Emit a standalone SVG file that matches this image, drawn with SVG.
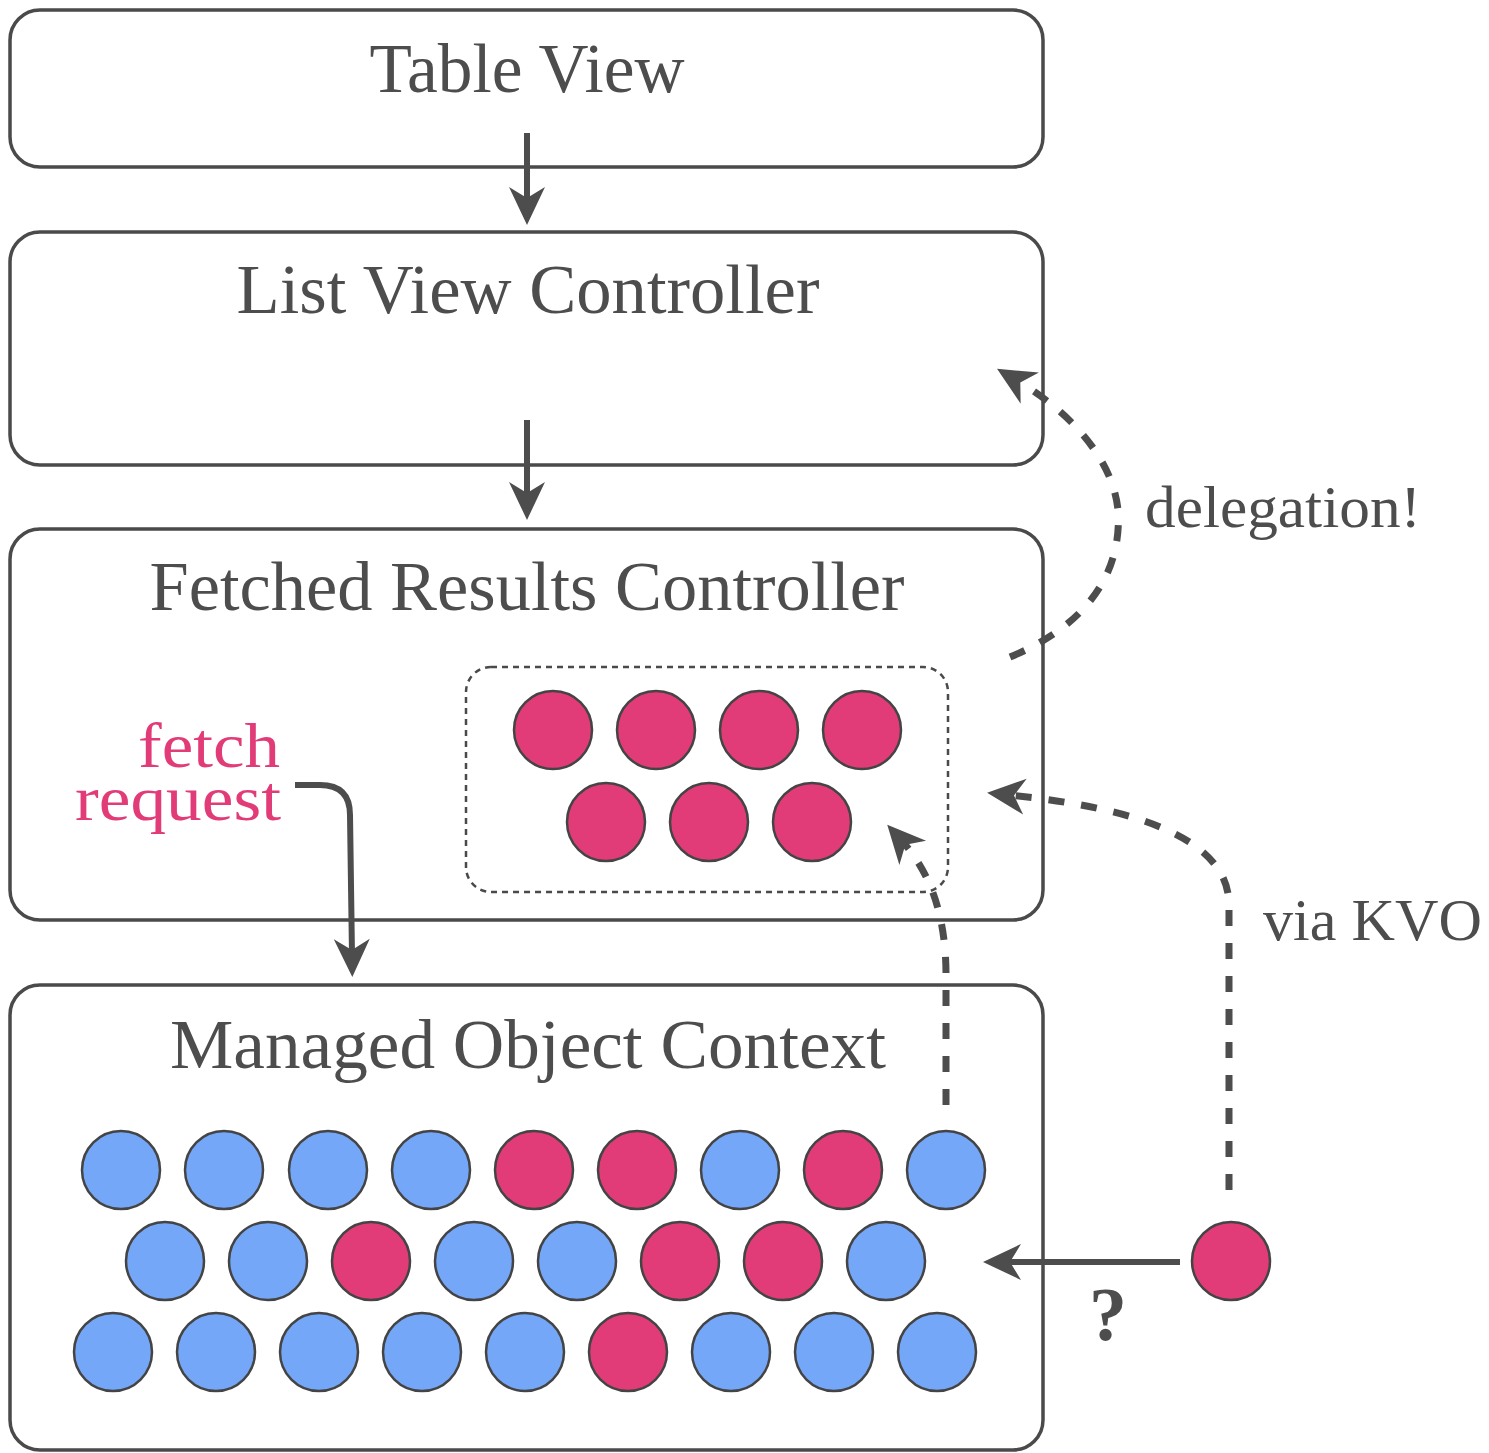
<svg xmlns="http://www.w3.org/2000/svg" width="1489" height="1453" viewBox="0 0 1489 1453">
  <style>
    .box { fill: #ffffff; stroke: #4a4a4a; stroke-width: 3.5; }
    .title { font-family: "Liberation Serif", "DejaVu Serif", serif; font-size: 70px; fill: #4d4d4d; text-anchor: middle; }
    .label { font-family: "Liberation Serif", "DejaVu Serif", serif; font-size: 60px; fill: #4d4d4d; }
    .pinktext { font-family: "Liberation Serif", "DejaVu Serif", serif; font-size: 64px; fill: #e23c78; text-anchor: end; }
    .pk { fill: #e23c78; stroke: #444; stroke-width: 2.5; }
    .bl { fill: #75a7f8; stroke: #444; stroke-width: 2.5; }
    .solid { fill: none; stroke: #4d4d4d; stroke-width: 6; }
    .dash { fill: none; stroke: #4d4d4d; stroke-width: 7; stroke-dasharray: 16 17; }
  </style>
  <defs>
    <!-- stealth arrowhead; its tip sits 22px beyond the end of the line -->
    <marker id="head" markerUnits="userSpaceOnUse" markerWidth="50" markerHeight="44" viewBox="-22 -22 50 44" refX="0" refY="0" orient="auto">
      <path d="M22,0 L-16,-18 L-5,0 L-16,18 Z" fill="#4d4d4d"/>
    </marker>
  </defs>

  <g id="table-view">
    <rect class="box" x="10" y="10" width="1033" height="157" rx="30"/>
    <text class="title" x="527" y="92" textLength="315" lengthAdjust="spacingAndGlyphs">Table View</text>
  </g>

  <g id="list-view-controller">
    <rect class="box" x="10" y="232" width="1033" height="233" rx="30"/>
    <text class="title" x="528" y="313" textLength="583" lengthAdjust="spacingAndGlyphs">List View Controller</text>
  </g>

  <g id="fetched-results-controller">
    <rect class="box" x="10" y="529" width="1033" height="391" rx="30"/>
    <text class="title" x="527" y="610" textLength="755" lengthAdjust="spacingAndGlyphs">Fetched Results Controller</text>
    <g id="fetched-objects">
      <rect x="466" y="667" width="482" height="225" rx="25" fill="none" stroke="#4a4a4a" stroke-width="2.5" stroke-dasharray="6 5"/>
      <circle class="pk" cx="553" cy="730" r="39"/>
      <circle class="pk" cx="656" cy="730" r="39"/>
      <circle class="pk" cx="759" cy="730" r="39"/>
      <circle class="pk" cx="862" cy="730" r="39"/>
      <circle class="pk" cx="606" cy="822" r="39"/>
      <circle class="pk" cx="709" cy="822" r="39"/>
      <circle class="pk" cx="812" cy="822" r="39"/>
    </g>
  </g>

  <g id="managed-object-context">
    <rect class="box" x="10" y="985" width="1033" height="465" rx="30"/>
    <text class="title" x="528" y="1068" textLength="716" lengthAdjust="spacingAndGlyphs">Managed Object Context</text>
    <!-- row 1 -->
    <circle class="bl" cx="121" cy="1170" r="39"/>
    <circle class="bl" cx="224" cy="1170" r="39"/>
    <circle class="bl" cx="328" cy="1170" r="39"/>
    <circle class="bl" cx="431" cy="1170" r="39"/>
    <circle class="pk" cx="534" cy="1170" r="39"/>
    <circle class="pk" cx="637" cy="1170" r="39"/>
    <circle class="bl" cx="740" cy="1170" r="39"/>
    <circle class="pk" cx="843" cy="1170" r="39"/>
    <circle class="bl" cx="946" cy="1170" r="39"/>
    <!-- row 2 -->
    <circle class="bl" cx="165" cy="1261" r="39"/>
    <circle class="bl" cx="268" cy="1261" r="39"/>
    <circle class="pk" cx="371" cy="1261" r="39"/>
    <circle class="bl" cx="474" cy="1261" r="39"/>
    <circle class="bl" cx="577" cy="1261" r="39"/>
    <circle class="pk" cx="680" cy="1261" r="39"/>
    <circle class="pk" cx="783" cy="1261" r="39"/>
    <circle class="bl" cx="886" cy="1261" r="39"/>
    <!-- row 3 -->
    <circle class="bl" cx="113" cy="1352" r="39"/>
    <circle class="bl" cx="216" cy="1352" r="39"/>
    <circle class="bl" cx="319" cy="1352" r="39"/>
    <circle class="bl" cx="422" cy="1352" r="39"/>
    <circle class="bl" cx="525" cy="1352" r="39"/>
    <circle class="pk" cx="628" cy="1352" r="39"/>
    <circle class="bl" cx="731" cy="1352" r="39"/>
    <circle class="bl" cx="834" cy="1352" r="39"/>
    <circle class="bl" cx="937" cy="1352" r="39"/>
  </g>

  <g id="new-object">
    <circle class="pk" cx="1231" cy="1261" r="39"/>
  </g>

  <g id="connectors">
    <path class="solid" d="M527,133 L527,203" marker-end="url(#head)"/>
    <path class="solid" d="M527,420 L527,498" marker-end="url(#head)"/>
    <path class="solid" d="M295,785 L320,785 Q350,785 350,815 L352,955" marker-end="url(#head)"/>
    <path class="solid" d="M1180,1262 L1005,1262" marker-end="url(#head)"/>
    <path class="dash" d="M1010,657 C1095,622 1122,565 1118,510 C1113,460 1072,413 1016,380" marker-end="url(#head)"/>
    <path class="dash" d="M946,1105 L946,975 C946,915 930,872 902,841" marker-end="url(#head)"/>
    <path class="dash" d="M1229,1190 L1229,905 C1229,840 1140,808 1009,795" marker-end="url(#head)"/>
  </g>

  <g id="labels">
    <text class="label" x="1145" y="527" textLength="276" lengthAdjust="spacingAndGlyphs">delegation!</text>
    <text class="label" x="1263" y="940" textLength="219" lengthAdjust="spacingAndGlyphs">via KVO</text>
    <text class="label" x="1108" y="1340" text-anchor="middle" style="font-size:76px;font-weight:bold">?</text>
    <text class="pinktext" x="280" y="767" textLength="142" lengthAdjust="spacingAndGlyphs">fetch</text>
    <text class="pinktext" x="281" y="820" textLength="206" lengthAdjust="spacingAndGlyphs">request</text>
  </g>
</svg>
